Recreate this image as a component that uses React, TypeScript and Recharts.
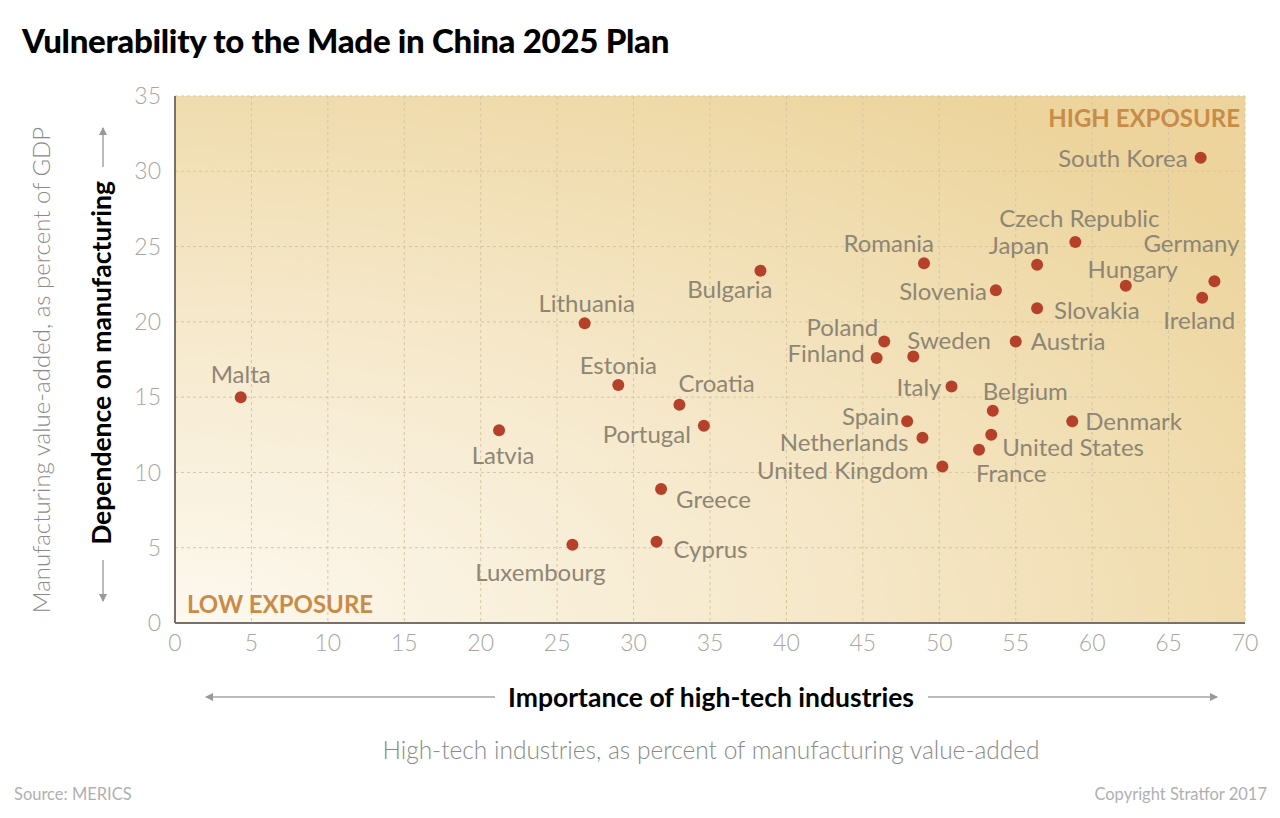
import React from 'react'
import { ScatterChart, Scatter, XAxis, YAxis, CartesianGrid } from 'recharts'

const countries = [
  'Malta', 'Latvia', 'Lithuania', 'Estonia', 'Luxembourg', 'Cyprus', 'Greece', 'Croatia',
  'Portugal', 'Bulgaria', 'Romania', 'Poland', 'Finland', 'Sweden', 'Italy', 'Spain',
  'Netherlands', 'United Kingdom', 'France', 'United States', 'Belgium', 'Slovenia',
  'Austria', 'Japan', 'Slovakia', 'Czech Republic', 'Denmark', 'Hungary', 'South Korea',
  'Ireland', 'Germany',
]
const highTech = [
  4.3, 21.2, 26.8, 29.0, 26.0, 31.5, 31.8, 33.0, 34.6, 38.3, 49.0, 46.4, 45.9, 48.3, 50.8,
  47.9, 48.9, 50.2, 52.6, 53.4, 53.5, 53.7, 55.0, 56.4, 56.4, 58.9, 58.7, 62.2, 67.1, 67.2, 68.0,
]
const manufacturing = [
  15.0, 12.8, 19.9, 15.8, 5.2, 5.4, 8.9, 14.5, 13.1, 23.4, 23.9, 18.7, 17.6, 17.7, 15.7,
  13.4, 12.3, 10.4, 11.5, 12.5, 14.1, 22.1, 18.7, 23.8, 20.9, 25.3, 13.4, 22.4, 30.9, 21.6, 22.7,
]
const xTicks = [0, 5, 10, 15, 20, 25, 30, 35, 40, 45, 50, 55, 60, 65, 70]
const yTicks = [0, 5, 10, 15, 20, 25, 30, 35]

// label placement relative to each dot: [dx, dy, anchor]
const labelPos: Record<string, [number, number, string]> = {
  Malta: [0, -24, 'middle'],
  Latvia: [4, 24, 'middle'],
  Lithuania: [2, -21, 'middle'],
  Estonia: [0, -21, 'middle'],
  Luxembourg: [-32, 27, 'middle'],
  Cyprus: [17, 7, 'start'],
  Greece: [15, 10, 'start'],
  Croatia: [-1, -22, 'start'],
  Portugal: [-13, 8, 'end'],
  Bulgaria: [12, 18, 'end'],
  Romania: [10, -21, 'end'],
  Poland: [-6, -15, 'end'],
  Finland: [-12, -5, 'end'],
  Sweden: [-6, -17, 'start'],
  Italy: [-10, 0, 'end'],
  Spain: [-8, -6, 'end'],
  Netherlands: [-14, 4, 'end'],
  'United Kingdom': [-14, 3, 'end'],
  France: [-3, 23, 'start'],
  'United States': [11, 12, 'start'],
  Belgium: [-10, -20, 'start'],
  Slovenia: [-9, 0, 'end'],
  Austria: [15, -1, 'start'],
  Japan: [12, -20, 'end'],
  Slovakia: [17, 1, 'start'],
  'Czech Republic': [4, -25, 'middle'],
  Denmark: [13, -1, 'start'],
  Hungary: [7, -17, 'middle'],
  'South Korea': [-13, 0, 'end'],
  Ireland: [-3, 22, 'middle'],
  Germany: [-23, -39, 'middle'],
}

const data = countries.map((name, i) => ({ name, x: highTech[i], y: manufacturing[i] }))

const FONT = 'Lato, "Open Sans", sans-serif'

function Dot(props: any) {
  const { cx, cy, payload } = props
  const [dx, dy, anchor] = labelPos[payload.name] || [10, 0, 'start']
  return (
    <g>
      <circle cx={cx} cy={cy} r={6} fill="#b5412a" />
      <text
        x={cx + dx}
        y={cy + dy}
        textAnchor={anchor as any}
        dominantBaseline="central"
        fontFamily={FONT}
        fontSize={24}
        fill="#8e8674"
      >
        {payload.name}
      </text>
    </g>
  )
}

export default function App() {
  return (
    <div style={{ position: 'absolute', left: 0, top: 0, width: 1280, height: 818, background: '#fff', fontFamily: FONT }}>
      <svg width={0} height={0} style={{ position: 'absolute' }}>
        <defs>
          <radialGradient id="bg" cx="0" cy="1" r="1.25" fx="0" fy="1">
            <stop offset="0%" stopColor="#fdf9f0" />
            <stop offset="45%" stopColor="#f6e9cc" />
            <stop offset="100%" stopColor="#ecd49c" />
          </radialGradient>
        </defs>
      </svg>
      <div style={{ position: 'absolute', left: 22, top: 20, fontSize: 33, fontWeight: 900, color: '#000', letterSpacing: -0.3, whiteSpace: 'nowrap' }}>
        Vulnerability to the Made in China 2025 Plan
      </div>
      <div style={{ position: 'absolute', left: 0, top: 0 }}>
        <ScatterChart width={1280} height={818} margin={{ top: 96, right: 35, bottom: 165, left: 125 }}>
          <CartesianGrid stroke="#d6c6a0" strokeDasharray="3 3" fill="url(#bg)" fillOpacity={1} />
          <XAxis
            type="number"
            dataKey="x"
            domain={[0, 70]}
            ticks={xTicks}
            interval={0}
            height={30}
            tickLine={false}
            axisLine={{ stroke: '#77716a', strokeWidth: 2 }}
            tick={{ fontSize: 23, fill: '#a8a6a2', fontFamily: FONT, fontWeight: 300 }}
            tickMargin={6}
          />
          <YAxis
            type="number"
            dataKey="y"
            domain={[0, 35]}
            ticks={yTicks}
            interval={0}
            width={50}
            tickLine={false}
            axisLine={{ stroke: '#77716a', strokeWidth: 2 }}
            tick={{ fontSize: 23, fill: '#a8a6a2', fontFamily: FONT, fontWeight: 300 }}
            tickMargin={8}
          />
          <Scatter data={data} shape={<Dot />} isAnimationActive={false} />
        </ScatterChart>
      </div>
      <svg width={1280} height={818} style={{ position: 'absolute', left: 0, top: 0, pointerEvents: 'none' }}>
        <defs>
          <marker id="arr" markerWidth="8" markerHeight="8" refX="7" refY="4" orient="auto" markerUnits="userSpaceOnUse">
            <path d="M0,0 L8,4 L0,8 Z" fill="#999" />
          </marker>
        </defs>
        <text x={1240} y={117} textAnchor="end" dominantBaseline="central" fontSize={24} fontWeight={700} fill="#c88c48" fontFamily={FONT}>HIGH EXPOSURE</text>
        <text x={187} y={603} textAnchor="start" dominantBaseline="central" fontSize={24} fontWeight={700} fill="#c88c48" fontFamily={FONT}>LOW EXPOSURE</text>

        <line x1={103} y1={167} x2={103} y2={128} stroke="#bbb" strokeWidth={2} markerEnd="url(#arr)" />
        <line x1={103} y1={560} x2={103} y2={601} stroke="#bbb" strokeWidth={2} markerEnd="url(#arr)" />
        <text transform="translate(101,363) rotate(-90)" textAnchor="middle" dominantBaseline="central" fontSize={26.5} fontWeight={700} fill="#000" fontFamily={FONT}>Dependence on manufacturing</text>
        <text transform="translate(40,370) rotate(-90)" textAnchor="middle" dominantBaseline="central" fontSize={24} fontWeight={300} fill="#8a8a8a" fontFamily={FONT}>Manufacturing value-added, as percent of GDP</text>

        <line x1={495} y1={697} x2={206} y2={697} stroke="#bbb" strokeWidth={2} markerEnd="url(#arr)" />
        <line x1={928} y1={697} x2={1217} y2={697} stroke="#bbb" strokeWidth={2} markerEnd="url(#arr)" />
        <text x={711} y={697} textAnchor="middle" dominantBaseline="central" fontSize={26.5} fontWeight={700} fill="#000" fontFamily={FONT}>Importance of high-tech industries</text>
        <text x={711} y={749} textAnchor="middle" dominantBaseline="central" fontSize={24.5} fontWeight={300} fill="#8a8a8a" fontFamily={FONT}>High-tech industries, as percent of manufacturing value-added</text>

        <text x={14} y={794} dominantBaseline="central" fontSize={16.5} fill="#b0b0b0" fontFamily={FONT}>Source: MERICS</text>
        <text x={1267} y={794} textAnchor="end" dominantBaseline="central" fontSize={16.5} fill="#b0b0b0" fontFamily={FONT}>Copyright Stratfor 2017</text>
      </svg>
    </div>
  )
}
